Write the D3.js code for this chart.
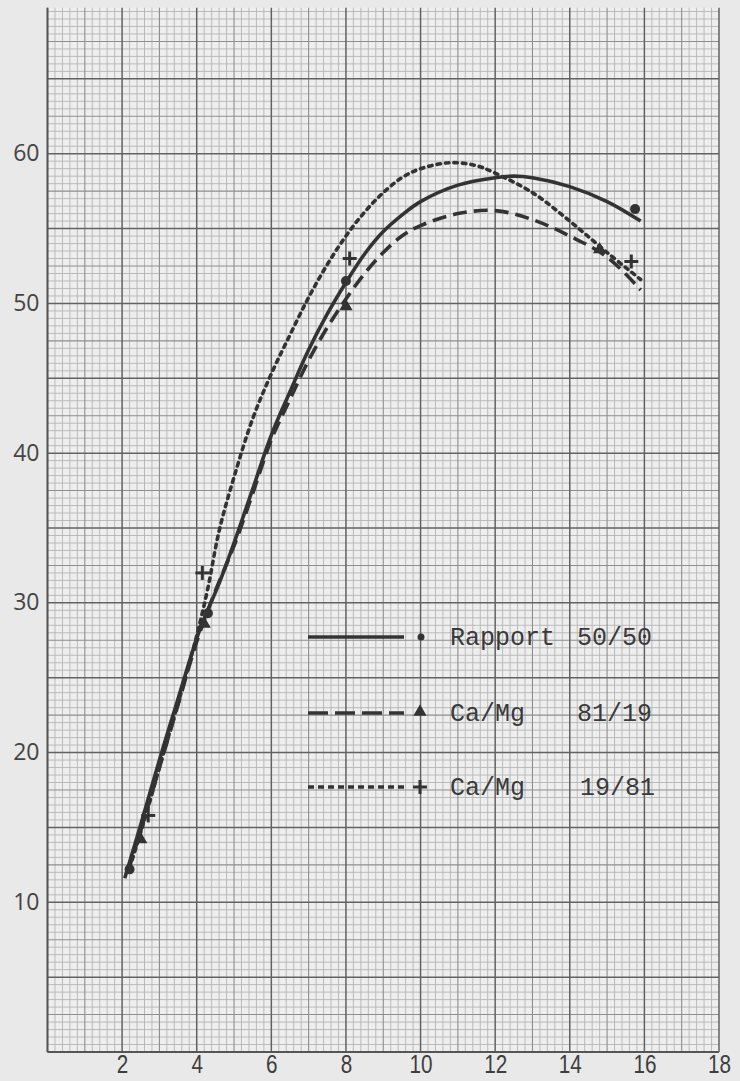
<!DOCTYPE html>
<html><head><meta charset="utf-8">
<script src="https://cdn.jsdelivr.net/npm/d3@7"></script>
<style>html,body{margin:0;padding:0;background:#e9e9e9}</style>
</head><body>
<svg id="chart" width="740" height="1081"></svg>
<script>
// ---- data ----
const xTickValues = [2, 4, 6, 8, 10, 12, 14, 16, 18];
const yTickValues = [10, 20, 30, 40, 50, 60];

const seriesLabels = ["Rapport", "Ca/Mg", "Ca/Mg"];
const seriesRatios = ["50/50", "81/19", "19/81"];

// Curve Rapport 50/50 (solid)
const curveA_x = [2.07, 2.5, 3, 3.5, 4.08, 4.6, 5, 5.5, 6, 6.5, 7, 7.5, 8, 8.5, 9, 9.5, 10, 11, 12, 12.5, 13, 14, 15, 15.9];
const curveA_y = [11.6, 15.2, 19.5, 23.6, 28.2, 31.3, 34.0, 37.6, 41.2, 44.1, 46.9, 49.3, 51.4, 53.3, 54.8, 55.9, 56.8, 57.9, 58.4, 58.5, 58.4, 57.8, 56.8, 55.5];
// Curve Ca/Mg 81/19 (dashed)
const curveB_x = [2.15, 2.5, 3, 3.5, 4, 4.5, 5, 5.5, 6, 6.5, 7, 7.5, 8, 8.5, 9, 9.5, 10, 11, 12, 13, 14, 15, 15.9];
const curveB_y = [12.0, 14.8, 19.0, 23.2, 27.4, 30.8, 33.8, 37.3, 40.9, 43.6, 46.2, 48.4, 50.3, 52.0, 53.4, 54.5, 55.2, 56.0, 56.2, 55.6, 54.5, 53.1, 50.9];
// Curve Ca/Mg 19/81 (dotted)
const curveC_x = [2.2, 2.6, 3, 3.5, 4, 4.3, 4.6, 5, 5.5, 6, 6.5, 7, 7.5, 8, 8.5, 9, 9.5, 10, 10.8, 11.5, 12, 13, 14, 15, 15.9];
const curveC_y = [12.3, 15.5, 19.0, 23.3, 27.8, 31.0, 34.8, 38.4, 42.3, 45.3, 47.9, 50.4, 52.6, 54.5, 56.1, 57.4, 58.4, 59.0, 59.4, 59.2, 58.7, 57.4, 55.5, 53.4, 51.6];

// Observation markers
const markA_x = [2.2, 4.3, 8.0, 15.75];
const markA_y = [12.2, 29.3, 51.5, 56.3];
const markB_x = [2.5, 4.2, 8.0, 14.8];
const markB_y = [14.2, 28.6, 49.8, 53.6];
const markC_x = [2.7, 4.15, 8.1, 15.65];
const markC_y = [15.8, 32.0, 53.0, 52.8];

// ---- chart ----
const svg = d3.select("#chart");
const x = d3.scaleLinear().domain([0, 18]).range([47.5, 719]);
const y = d3.scaleLinear().domain([0, 70]).range([1052, 4]);
const yTop = 69.75;

const ink = "#333";

// graph paper
const paper = svg.append("g");
paper.append("rect")
  .attr("x", x(0)).attr("y", y(yTop))
  .attr("width", x(18) - x(0)).attr("height", y(0) - y(yTop))
  .attr("fill", "#eeeeee");

const fineX = d3.range(0, 18.001, 0.2).map(v => +v.toFixed(2));
const fineY = d3.range(0, yTop, 0.5);
function lvlX(v){ const r = Math.round(v*5); return r % 10 === 0 ? 2 : (r % 5 === 0 ? 1 : 0); }
function lvlY(v){ const r = Math.round(v*2); return r % 10 === 0 ? 2 : (r % 5 === 0 ? 1 : 0); }
const gridColor = ["#b4b4b4", "#8e8e8e", "#626262"];
const gridWidth = [0.9, 1.1, 1.5];

[0,1,2].forEach(level => {
  paper.selectAll(null).data(fineX.filter(v => lvlX(v) === level)).enter().append("line")
    .attr("x1", d => x(d)).attr("x2", d => x(d))
    .attr("y1", y(yTop)).attr("y2", y(0))
    .attr("stroke", gridColor[level]).attr("stroke-width", gridWidth[level]);
  paper.selectAll(null).data(fineY.filter(v => lvlY(v) === level)).enter().append("line")
    .attr("y1", d => y(d)).attr("y2", d => y(d))
    .attr("x1", x(0)).attr("x2", x(18))
    .attr("stroke", gridColor[level]).attr("stroke-width", gridWidth[level]);
});

// axes edges
svg.append("line").attr("x1", x(0)).attr("x2", x(0)).attr("y1", y(yTop)).attr("y2", y(0))
  .attr("stroke", "#555").attr("stroke-width", 1.8);
svg.append("line").attr("x1", x(0)).attr("x2", x(18)).attr("y1", y(0)).attr("y2", y(0))
  .attr("stroke", "#555").attr("stroke-width", 1.8);

// tick labels
const xAxis = d3.axisBottom(x).tickValues(xTickValues).tickSize(0).tickPadding(0).tickFormat(d3.format("d"));
const gx = svg.append("g").attr("transform", `translate(0,${y(0)})`).call(xAxis);
gx.select(".domain").remove();
gx.selectAll("text")
  .attr("dy", null).attr("y", 21)
  .attr("font-family", "'Liberation Sans',sans-serif")
  .attr("font-size", 25).attr("fill", "#3e3e3e")
  .attr("lengthAdjust", "spacingAndGlyphs")
  .attr("textLength", d => String(d).length * 11.5);

const yAxis = d3.axisLeft(y).tickValues(yTickValues).tickSize(0).tickPadding(8).tickFormat(d3.format("d"));
const gy = svg.append("g").attr("transform", `translate(${x(0)},0)`).call(yAxis);
gy.select(".domain").remove();
gy.selectAll("text")
  .attr("dy", "0.3em")
  .attr("font-family", "'Open Sans','DejaVu Sans',sans-serif")
  .attr("font-size", 23).attr("fill", "#444");

// curves
const line = d3.line().x(d => x(d[0])).y(d => y(d[1])).curve(d3.curveCatmullRom.alpha(0.5));
const zip = (a, b) => a.map((v, i) => [v, b[i]]);

const styles = [
  { dash: null, width: 3.6 },
  { dash: "14,7", width: 3.6 },
  { dash: "3.5,5", width: 3.6 }
];
const curves = [zip(curveA_x, curveA_y), zip(curveB_x, curveB_y), zip(curveC_x, curveC_y)];
curves.forEach((c, i) => {
  svg.append("path").datum(c).attr("d", line)
    .attr("fill", "none").attr("stroke", ink)
    .attr("stroke-width", styles[i].width)
    .attr("stroke-dasharray", styles[i].dash)
    .attr("stroke-linecap", i === 2 ? "round" : "butt");
});

// markers
function drawDot(g, cx, cy, r){ g.append("circle").attr("cx", cx).attr("cy", cy).attr("r", r).attr("fill", ink); }
function drawTri(g, cx, cy, s){
  g.append("path").attr("d", d3.symbol(d3.symbolTriangle, s*s*0.45)()).attr("transform", `translate(${cx},${cy})`).attr("fill", ink);
}
function drawPlus(g, cx, cy, s){
  g.append("line").attr("x1", cx - s/2).attr("x2", cx + s/2).attr("y1", cy).attr("y2", cy).attr("stroke", ink).attr("stroke-width", 3);
  g.append("line").attr("x1", cx).attr("x2", cx).attr("y1", cy - s/2).attr("y2", cy + s/2).attr("stroke", ink).attr("stroke-width", 3);
}
const mg = svg.append("g");
markA_x.forEach((v, i) => drawDot(mg, x(v), y(markA_y[i]), 5));
markB_x.forEach((v, i) => drawTri(mg, x(v), y(markB_y[i]), 13));
markC_x.forEach((v, i) => drawPlus(mg, x(v), y(markC_y[i]), 14));

// legend
const legend = svg.append("g");
const legRows = [637, 713, 787];
legRows.forEach((ly, i) => {
  legend.append("line").attr("x1", 308).attr("x2", 404).attr("y1", ly).attr("y2", ly)
    .attr("stroke", ink).attr("stroke-width", 3.4)
    .attr("stroke-dasharray", i === 0 ? null : (i === 1 ? "20,7" : "6,4"));
  if (i === 0) drawDot(legend, 421, ly, 3.5);
  if (i === 1) drawTri(legend, 420, ly - 1, 13);
  if (i === 2) drawPlus(legend, 420, ly, 14);
  legend.append("text").attr("x", 450).attr("y", ly + 8)
    .attr("font-family", "'Liberation Mono',monospace").attr("font-size", 25)
    .attr("fill", "#3a3a3a").text(seriesLabels[i]);
  legend.append("text").attr("x", i === 2 ? 580 : 577).attr("y", ly + 8)
    .attr("font-family", "'Liberation Mono',monospace").attr("font-size", 25)
    .attr("fill", "#3a3a3a").text(seriesRatios[i]);
});
</script>
</body></html>
